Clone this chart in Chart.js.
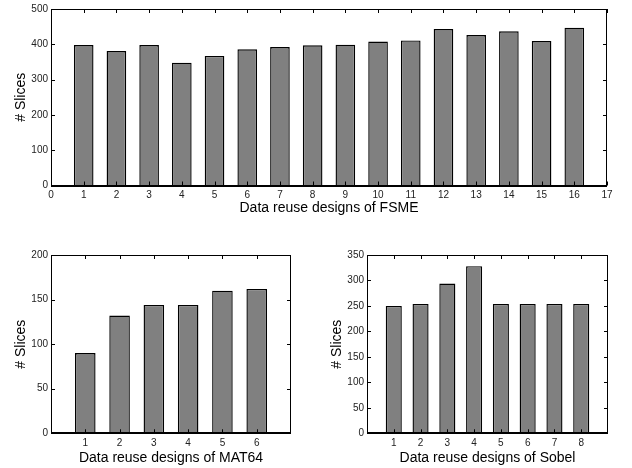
<!DOCTYPE html>
<html><head><meta charset="utf-8">
<script src="https://cdn.jsdelivr.net/npm/chart.js@4/dist/chart.umd.min.js"></script>
<style>
html,body{margin:0;padding:0;background:#fff;width:632px;height:468px;overflow:hidden;}
.box{position:absolute;}
</style></head><body>
<div class="box" style="left:0;top:0;width:632px;height:225px"><canvas id="c1"></canvas></div>
<div class="box" style="left:0;top:240px;width:316px;height:228px"><canvas id="c2"></canvas></div>
<div class="box" style="left:316px;top:240px;width:316px;height:228px"><canvas id="c3"></canvas></div>
<script>
// ---- data ----
const fsmeDesigns = [1,2,3,4,5,6,7,8,9,10,11,12,13,14,15,16];
const fsmeSlices  = [398,381,398,348,367,386,392,397,399,408,411,443,426,437,409,447];
const fsmeXTicks  = [0,1,2,3,4,5,6,7,8,9,10,11,12,13,14,15,16,17];
const fsmeYTicks  = [0,100,200,300,400,500];

const matDesigns = [1,2,3,4,5,6];
const matSlices  = [90,132,144,144,160,162];
const matXTicks  = [1,2,3,4,5,6];
const matYTicks  = [0,50,100,150,200];

const sobelDesigns = [1,2,3,4,5,6,7,8];
const sobelSlices  = [250,254,294,328,254,254,254,254];
const sobelXTicks  = [1,2,3,4,5,6,7,8];
const sobelYTicks  = [0,50,100,150,200,250,300,350];

const FONT = "'Liberation Sans', Arial, Helvetica, sans-serif";

const frameTicks = {
  id: 'frameTicks',
  afterDatasetsDraw(chart) {
    const {ctx, chartArea: a, scales: {x, y}} = chart;
    const L = 4;
    ctx.save();
    ctx.strokeStyle = '#000';
    ctx.lineWidth = 1;
    ctx.beginPath();
    x.ticks.forEach(t => {
      const px = Math.round(x.getPixelForValue(t.value)) + 0.5;
      ctx.moveTo(px, a.top); ctx.lineTo(px, a.top + L);
      ctx.moveTo(px, a.bottom); ctx.lineTo(px, a.bottom - L);
    });
    y.ticks.forEach(t => {
      const py = Math.round(y.getPixelForValue(t.value)) + 0.5;
      ctx.moveTo(a.left, py); ctx.lineTo(a.left + L, py);
      ctx.moveTo(a.right, py); ctx.lineTo(a.right - L, py);
    });
    ctx.stroke();
    ctx.strokeRect(Math.round(a.left) + 0.5, Math.round(a.top) + 0.5,
                   Math.round(a.right - a.left) - 1, Math.round(a.bottom - a.top));
    ctx.lineWidth = 2;
    ctx.beginPath();
    ctx.moveTo(a.left, Math.round(a.bottom));
    ctx.lineTo(a.right, Math.round(a.bottom));
    ctx.stroke();
    ctx.restore();
  }
};

function makeChart(id, designs, values, xMin, xMax, xTicks, yMax, yTicks, xTitle, o) {
  return new Chart(document.getElementById(id), {
    type: 'bar',
    data: {
      datasets: [{
        data: designs.map((d, i) => ({x: d, y: values[i]})),
        backgroundColor: '#808080',
        borderColor: '#000',
        borderWidth: 1.4,
        borderSkipped: 'bottom',
        barPercentage: 0.6,
        categoryPercentage: 1.0
      }]
    },
    options: {
      responsive: true,
      maintainAspectRatio: false,
      animation: false,
      layout: {padding: {top: o.padTop, right: o.padRight, left: 0, bottom: 0}},
      plugins: {legend: {display: false}, tooltip: {enabled: false}},
      scales: {
        x: {
          type: 'linear', offset: false, min: xMin, max: xMax,
          grid: {display: false, drawTicks: false},
          border: {display: false},
          afterBuildTicks: s => { s.ticks = xTicks.map(v => ({value: v})); },
          afterFit: s => { s.height = o.xH; },
          ticks: {color: '#222', font: {family: FONT, size: 10}, padding: 4, maxRotation: 0, autoSkip: false,
                  callback: v => String(v)},
          title: {display: true, text: xTitle, color: '#000', font: {family: FONT, size: 14},
                  padding: {top: 0, bottom: o.xTitlePad}}
        },
        y: {
          min: 0, max: yMax,
          grid: {display: false, drawTicks: false},
          border: {display: false},
          afterBuildTicks: s => { s.ticks = yTicks.map(v => ({value: v})); },
          afterFit: s => { s.width = 51; },
          ticks: {color: '#222', font: {family: FONT, size: 10}, padding: 3, callback: v => String(v)},
          title: {display: true, text: '# Slices', color: '#000', font: {family: FONT, size: 14},
                  padding: {top: 12.5, bottom: 0}}
        }
      }
    },
    plugins: [frameTicks]
  });
}

makeChart('c1', fsmeDesigns, fsmeSlices, 0, 17, fsmeXTicks, 500, fsmeYTicks,
  'Data reuse designs of FSME', {padTop: 7, padRight: 25, xH: 39.5, xTitlePad: 8.6});
makeChart('c2', matDesigns, matSlices, 0, 7, matXTicks, 200, matYTicks,
  'Data reuse designs of MAT64', {padTop: 15, padRight: 25, xH: 34.7, xTitlePad: 1.3});
makeChart('c3', sobelDesigns, sobelSlices, 0, 9, sobelXTicks, 350, sobelYTicks,
  'Data reuse designs of Sobel', {padTop: 15, padRight: 24, xH: 34.7, xTitlePad: 1.3});
</script>
</body></html>
